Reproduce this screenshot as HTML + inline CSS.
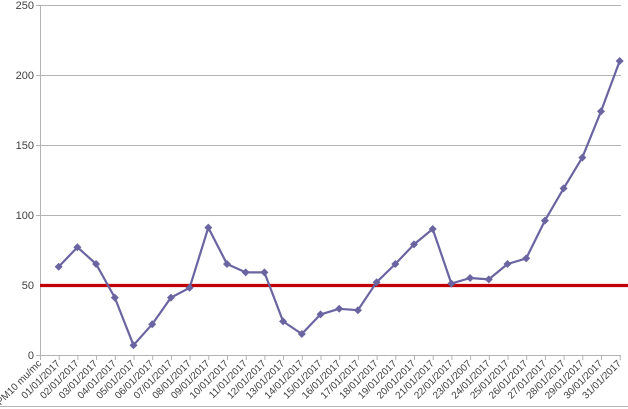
<!DOCTYPE html>
<html><head><meta charset="utf-8"><style>
html,body{margin:0;padding:0;background:#fff;}
svg{display:block;font-family:"Liberation Sans",sans-serif;}
</style></head><body>
<svg width="628" height="409" viewBox="0 0 628 409" xmlns="http://www.w3.org/2000/svg">
<rect width="628" height="409" fill="#fff"/>
<g stroke="#b3b3b3" stroke-width="1">
<line x1="36" y1="5.5" x2="621" y2="5.5"/>
<line x1="36" y1="75.5" x2="621" y2="75.5"/>
<line x1="36" y1="145.5" x2="621" y2="145.5"/>
<line x1="36" y1="215.5" x2="621" y2="215.5"/>
<line x1="36" y1="355.5" x2="621" y2="355.5"/>
<line x1="40.5" y1="5" x2="40.5" y2="355"/>
<line x1="0" y1="406.5" x2="628" y2="406.5"/>
</g>
<g stroke="#b3b3b3" stroke-width="1" id="ticks">
<line x1="40.5" y1="355" x2="40.5" y2="360"/><line x1="59.2" y1="355" x2="59.2" y2="360"/><line x1="77.9" y1="355" x2="77.9" y2="360"/><line x1="96.6" y1="355" x2="96.6" y2="360"/><line x1="115.3" y1="355" x2="115.3" y2="360"/><line x1="134" y1="355" x2="134" y2="360"/><line x1="152.7" y1="355" x2="152.7" y2="360"/><line x1="171.4" y1="355" x2="171.4" y2="360"/><line x1="190.1" y1="355" x2="190.1" y2="360"/><line x1="208.8" y1="355" x2="208.8" y2="360"/><line x1="227.5" y1="355" x2="227.5" y2="360"/><line x1="246.2" y1="355" x2="246.2" y2="360"/><line x1="264.9" y1="355" x2="264.9" y2="360"/><line x1="283.6" y1="355" x2="283.6" y2="360"/><line x1="302.3" y1="355" x2="302.3" y2="360"/><line x1="321" y1="355" x2="321" y2="360"/><line x1="339.7" y1="355" x2="339.7" y2="360"/><line x1="358.4" y1="355" x2="358.4" y2="360"/><line x1="377.1" y1="355" x2="377.1" y2="360"/><line x1="395.8" y1="355" x2="395.8" y2="360"/><line x1="414.5" y1="355" x2="414.5" y2="360"/><line x1="433.2" y1="355" x2="433.2" y2="360"/><line x1="451.9" y1="355" x2="451.9" y2="360"/><line x1="470.6" y1="355" x2="470.6" y2="360"/><line x1="489.3" y1="355" x2="489.3" y2="360"/><line x1="508" y1="355" x2="508" y2="360"/><line x1="526.7" y1="355" x2="526.7" y2="360"/><line x1="545.4" y1="355" x2="545.4" y2="360"/><line x1="564.1" y1="355" x2="564.1" y2="360"/><line x1="582.8" y1="355" x2="582.8" y2="360"/><line x1="601.5" y1="355" x2="601.5" y2="360"/><line x1="620.2" y1="355" x2="620.2" y2="360"/>
</g>
<g font-size="11" fill="#404040" text-anchor="end">
<text x="34" y="9">250</text><text x="34" y="79">200</text><text x="34" y="149">150</text><text x="34" y="219">100</text><text x="34" y="289">50</text><text x="34" y="359">0</text>
</g>
<line x1="40" y1="285.5" x2="628" y2="285.5" stroke="#c00000" stroke-width="3.2"/>
<polyline fill="none" stroke="#6a64a0" stroke-width="2.2" stroke-linejoin="round" points="58.7,266.8 77.4,247.2 96.1,264 114.8,297.6 133.5,345.2 152.2,324.2 170.9,297.6 189.6,287.8 208.3,227.6 227,264 245.7,272.4 264.4,272.4 283.1,321.4 301.8,334 320.5,314.4 339.2,308.8 357.9,310.2 376.6,282.2 395.3,264 414,244.4 432.7,229 451.4,283.6 470.1,278 488.8,279.4 507.5,264 526.2,258.4 544.9,220.6 563.6,188.4 582.3,157.6 601,111.4 619.7,61"/>
<g fill="#6a64a0">
<path d="M58.7 262.8l4 4-4 4-4-4z"/><path d="M77.4 243.2l4 4-4 4-4-4z"/><path d="M96.1 260l4 4-4 4-4-4z"/><path d="M114.8 293.6l4 4-4 4-4-4z"/><path d="M133.5 341.2l4 4-4 4-4-4z"/><path d="M152.2 320.2l4 4-4 4-4-4z"/><path d="M170.9 293.6l4 4-4 4-4-4z"/><path d="M189.6 283.8l4 4-4 4-4-4z"/><path d="M208.3 223.6l4 4-4 4-4-4z"/><path d="M227 260l4 4-4 4-4-4z"/><path d="M245.7 268.4l4 4-4 4-4-4z"/><path d="M264.4 268.4l4 4-4 4-4-4z"/><path d="M283.1 317.4l4 4-4 4-4-4z"/><path d="M301.8 330l4 4-4 4-4-4z"/><path d="M320.5 310.4l4 4-4 4-4-4z"/><path d="M339.2 304.8l4 4-4 4-4-4z"/><path d="M357.9 306.2l4 4-4 4-4-4z"/><path d="M376.6 278.2l4 4-4 4-4-4z"/><path d="M395.3 260l4 4-4 4-4-4z"/><path d="M414 240.4l4 4-4 4-4-4z"/><path d="M432.7 225l4 4-4 4-4-4z"/><path d="M451.4 279.6l4 4-4 4-4-4z"/><path d="M470.1 274l4 4-4 4-4-4z"/><path d="M488.8 275.4l4 4-4 4-4-4z"/><path d="M507.5 260l4 4-4 4-4-4z"/><path d="M526.2 254.4l4 4-4 4-4-4z"/><path d="M544.9 216.6l4 4-4 4-4-4z"/><path d="M563.6 184.4l4 4-4 4-4-4z"/><path d="M582.3 153.6l4 4-4 4-4-4z"/><path d="M601 107.4l4 4-4 4-4-4z"/><path d="M619.7 57l4 4-4 4-4-4z"/>
</g>
<g font-size="10" fill="#404040" text-anchor="end">
<text transform="translate(42,364) rotate(-45)">PM10 mu/mc</text>
<text transform="translate(60.7,364) rotate(-45)">01/01/2017</text>
<text transform="translate(79.4,364) rotate(-45)">02/01/2017</text>
<text transform="translate(98.1,364) rotate(-45)">03/01/2017</text>
<text transform="translate(116.8,364) rotate(-45)">04/01/2017</text>
<text transform="translate(135.5,364) rotate(-45)">05/01/2017</text>
<text transform="translate(154.2,364) rotate(-45)">06/01/2017</text>
<text transform="translate(172.9,364) rotate(-45)">07/01/2017</text>
<text transform="translate(191.6,364) rotate(-45)">08/01/2017</text>
<text transform="translate(210.3,364) rotate(-45)">09/01/2017</text>
<text transform="translate(229,364) rotate(-45)">10/01/2017</text>
<text transform="translate(247.7,364) rotate(-45)">11/01/2017</text>
<text transform="translate(266.4,364) rotate(-45)">12/01/2017</text>
<text transform="translate(285.1,364) rotate(-45)">13/01/2017</text>
<text transform="translate(303.8,364) rotate(-45)">14/01/2017</text>
<text transform="translate(322.5,364) rotate(-45)">15/01/2017</text>
<text transform="translate(341.2,364) rotate(-45)">16/01/2017</text>
<text transform="translate(359.9,364) rotate(-45)">17/01/2017</text>
<text transform="translate(378.6,364) rotate(-45)">18/01/2017</text>
<text transform="translate(397.3,364) rotate(-45)">19/01/2017</text>
<text transform="translate(416,364) rotate(-45)">20/01/2017</text>
<text transform="translate(434.7,364) rotate(-45)">21/01/2017</text>
<text transform="translate(453.4,364) rotate(-45)">22/01/2017</text>
<text transform="translate(472.1,364) rotate(-45)">23/01/2007</text>
<text transform="translate(490.8,364) rotate(-45)">24/01/2017</text>
<text transform="translate(509.5,364) rotate(-45)">25/01/2017</text>
<text transform="translate(528.2,364) rotate(-45)">26/01/2017</text>
<text transform="translate(546.9,364) rotate(-45)">27/01/2017</text>
<text transform="translate(565.6,364) rotate(-45)">28/01/2017</text>
<text transform="translate(584.3,364) rotate(-45)">29/01/2017</text>
<text transform="translate(603,364) rotate(-45)">30/01/2017</text>
<text transform="translate(621.7,364) rotate(-45)">31/01/2017</text>
</g>
</svg>
</body></html>
